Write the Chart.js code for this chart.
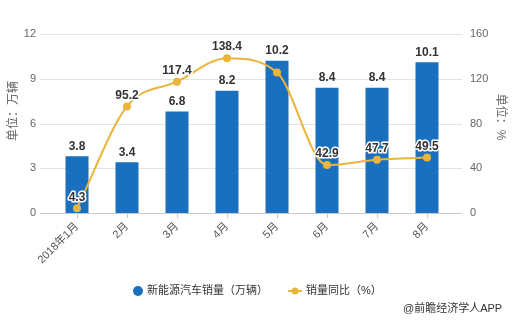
<!DOCTYPE html>
<html>
<head>
<meta charset="utf-8">
<script src="https://cdn.jsdelivr.net/npm/chart.js@4/dist/chart.umd.min.js"></script>
<style>
  html, body { margin: 0; padding: 0; background: #fff; }
  #wrap { width: 512px; height: 327px; position: relative; }
</style>
</head>
<body>
<div id="wrap"><canvas id="grafico" width="512" height="327"></canvas></div>
<script>
const FONT = "'Liberation Sans', 'Noto Sans CJK SC', sans-serif";

const meses = ["2018年1月", "2月", "3月", "4月", "5月", "6月", "7月", "8月"];
const ventas = [3.8, 3.4, 6.8, 8.2, 10.2, 8.4, 8.4, 10.1];
const crecimiento = [4.3, 95.2, 117.4, 138.4, 125.6, 42.9, 47.7, 49.5];
const ticksIzq = [0, 3, 6, 9, 12];
const ticksDer = [0, 40, 80, 120, 160];
const etiquetasOcultas = [4]; // la etiqueta de mayo queda tapada por la barra

const AZUL = "#1a6fbe";
const ORO = "#ebb43a";

// Lineas de fondo mas anchas que el area, etiquetas, titulos y leyenda
const decoracion = {
  id: "decoracion",
  beforeDatasetsDraw(chart) {
    const { ctx, chartArea } = chart;
    const y = chart.scales.y;
    ctx.save();
    ticksIzq.forEach(t => {
      const py = Math.round(y.getPixelForValue(t)) + 0.5;
      ctx.strokeStyle = t === 0 ? "#c8c8c8" : "#e3e3e3";
      ctx.lineWidth = 1;
      ctx.beginPath();
      ctx.moveTo(chartArea.left - 12, py);
      ctx.lineTo(chartArea.right + 10, py);
      ctx.stroke();
    });
    ctx.restore();
  },
  afterDatasetsDraw(chart) {
    const { ctx } = chart;
    ctx.save();
    ctx.font = "bold 12px " + FONT;
    ctx.textAlign = "center";
    ctx.textBaseline = "bottom";

    chart.getDatasetMeta(1).data.forEach((bar, i) => {
      ctx.fillStyle = "#333";
      ctx.fillText(ventas[i].toFixed(1), bar.x, bar.y - 4);
    });

    chart.getDatasetMeta(0).data.forEach((pt, i) => {
      if (etiquetasOcultas.includes(i)) return;
      const txt = crecimiento[i].toFixed(1);
      ctx.lineWidth = 3;
      ctx.strokeStyle = "#fff";
      ctx.lineJoin = "round";
      ctx.strokeText(txt, pt.x, pt.y - 5);
      ctx.fillStyle = "#333";
      ctx.fillText(txt, pt.x, pt.y - 5);
    });
    ctx.restore();
  },
  afterDraw(chart) {
    const { ctx } = chart;
    ctx.save();
    // titulos de ejes
    ctx.fillStyle = "#666";
    ctx.font = "12px " + FONT;
    ctx.textAlign = "center";
    ctx.textBaseline = "middle";
    ctx.translate(14, 111);
    ctx.rotate(-Math.PI / 2);
    ctx.fillText("单位：万辆", 0, 0);
    ctx.restore();

    ctx.save();
    ctx.fillStyle = "#666";
    ctx.font = "12px " + FONT;
    ctx.textAlign = "center";
    ctx.textBaseline = "middle";
    ctx.translate(500, 117);
    ctx.rotate(Math.PI / 2);
    ctx.fillText("单位：%", 0, 0);
    ctx.restore();

    // leyenda
    ctx.save();
    ctx.font = "11px " + FONT;
    ctx.textBaseline = "middle";
    ctx.textAlign = "left";
    ctx.fillStyle = AZUL;
    ctx.beginPath();
    ctx.arc(138, 291, 5, 0, Math.PI * 2);
    ctx.fill();
    ctx.fillStyle = "#333";
    ctx.fillText("新能源汽车销量（万辆）", 147, 291);

    ctx.strokeStyle = ORO;
    ctx.lineWidth = 2;
    ctx.beginPath();
    ctx.moveTo(288, 291);
    ctx.lineTo(302, 291);
    ctx.stroke();
    ctx.fillStyle = ORO;
    ctx.beginPath();
    ctx.arc(295, 291, 3.5, 0, Math.PI * 2);
    ctx.fill();
    ctx.fillStyle = "#333";
    ctx.fillText("销量同比（%）", 306, 291);

    ctx.fillText("@前瞻经济学人APP", 403, 309);
    ctx.restore();
  }
};

new Chart(document.getElementById("grafico"), {
  data: {
    labels: meses,
    datasets: [
      {
        type: "line",
        label: "销量同比（%）",
        data: crecimiento,
        yAxisID: "y1",
        order: 0,
        borderColor: ORO,
        backgroundColor: ORO,
        borderWidth: 2,
        cubicInterpolationMode: "monotone",
        pointRadius: 4,
        pointBackgroundColor: ORO,
        pointBorderWidth: 0
      },
      {
        type: "bar",
        label: "新能源汽车销量（万辆）",
        data: ventas,
        yAxisID: "y",
        order: 1,
        backgroundColor: AZUL,
        barPercentage: 0.46,
        categoryPercentage: 1
      }
    ]
  },
  options: {
    responsive: false,
    animation: false,
    events: [],
    layout: { padding: { top: 34, left: 0, right: 0, bottom: 0 } },
    plugins: {
      legend: { display: false },
      tooltip: { enabled: false }
    },
    scales: {
      x: {
        offset: true,
        grid: {
          offset: false,
          drawOnChartArea: false,
          drawTicks: true,
          tickLength: 5,
          color: "#c8c8c8"
        },
        border: { display: false },
        ticks: {
          color: "#555",
          font: { size: 11, family: FONT },
          maxRotation: 45,
          minRotation: 45,
          padding: 2
        },
        afterFit(scale) { scale.height = 114; }
      },
      y: {
        position: "left",
        min: 0,
        max: 12,
        afterBuildTicks(scale) { scale.ticks = ticksIzq.map(v => ({ value: v })); },
        grid: { display: false, drawTicks: false },
        border: { display: false },
        ticks: {
          color: "#666",
          font: { size: 11, family: FONT },
          padding: 16
        },
        afterFit(scale) { scale.width = 52; }
      },
      y1: {
        position: "right",
        min: 0,
        max: 160,
        afterBuildTicks(scale) { scale.ticks = ticksDer.map(v => ({ value: v })); },
        grid: { display: false, drawTicks: false },
        border: { display: false },
        ticks: {
          color: "#666",
          font: { size: 11, family: FONT },
          padding: 18
        },
        afterFit(scale) { scale.width = 60; }
      }
    }
  },
  plugins: [decoracion]
});
</script>
</body>
</html>
